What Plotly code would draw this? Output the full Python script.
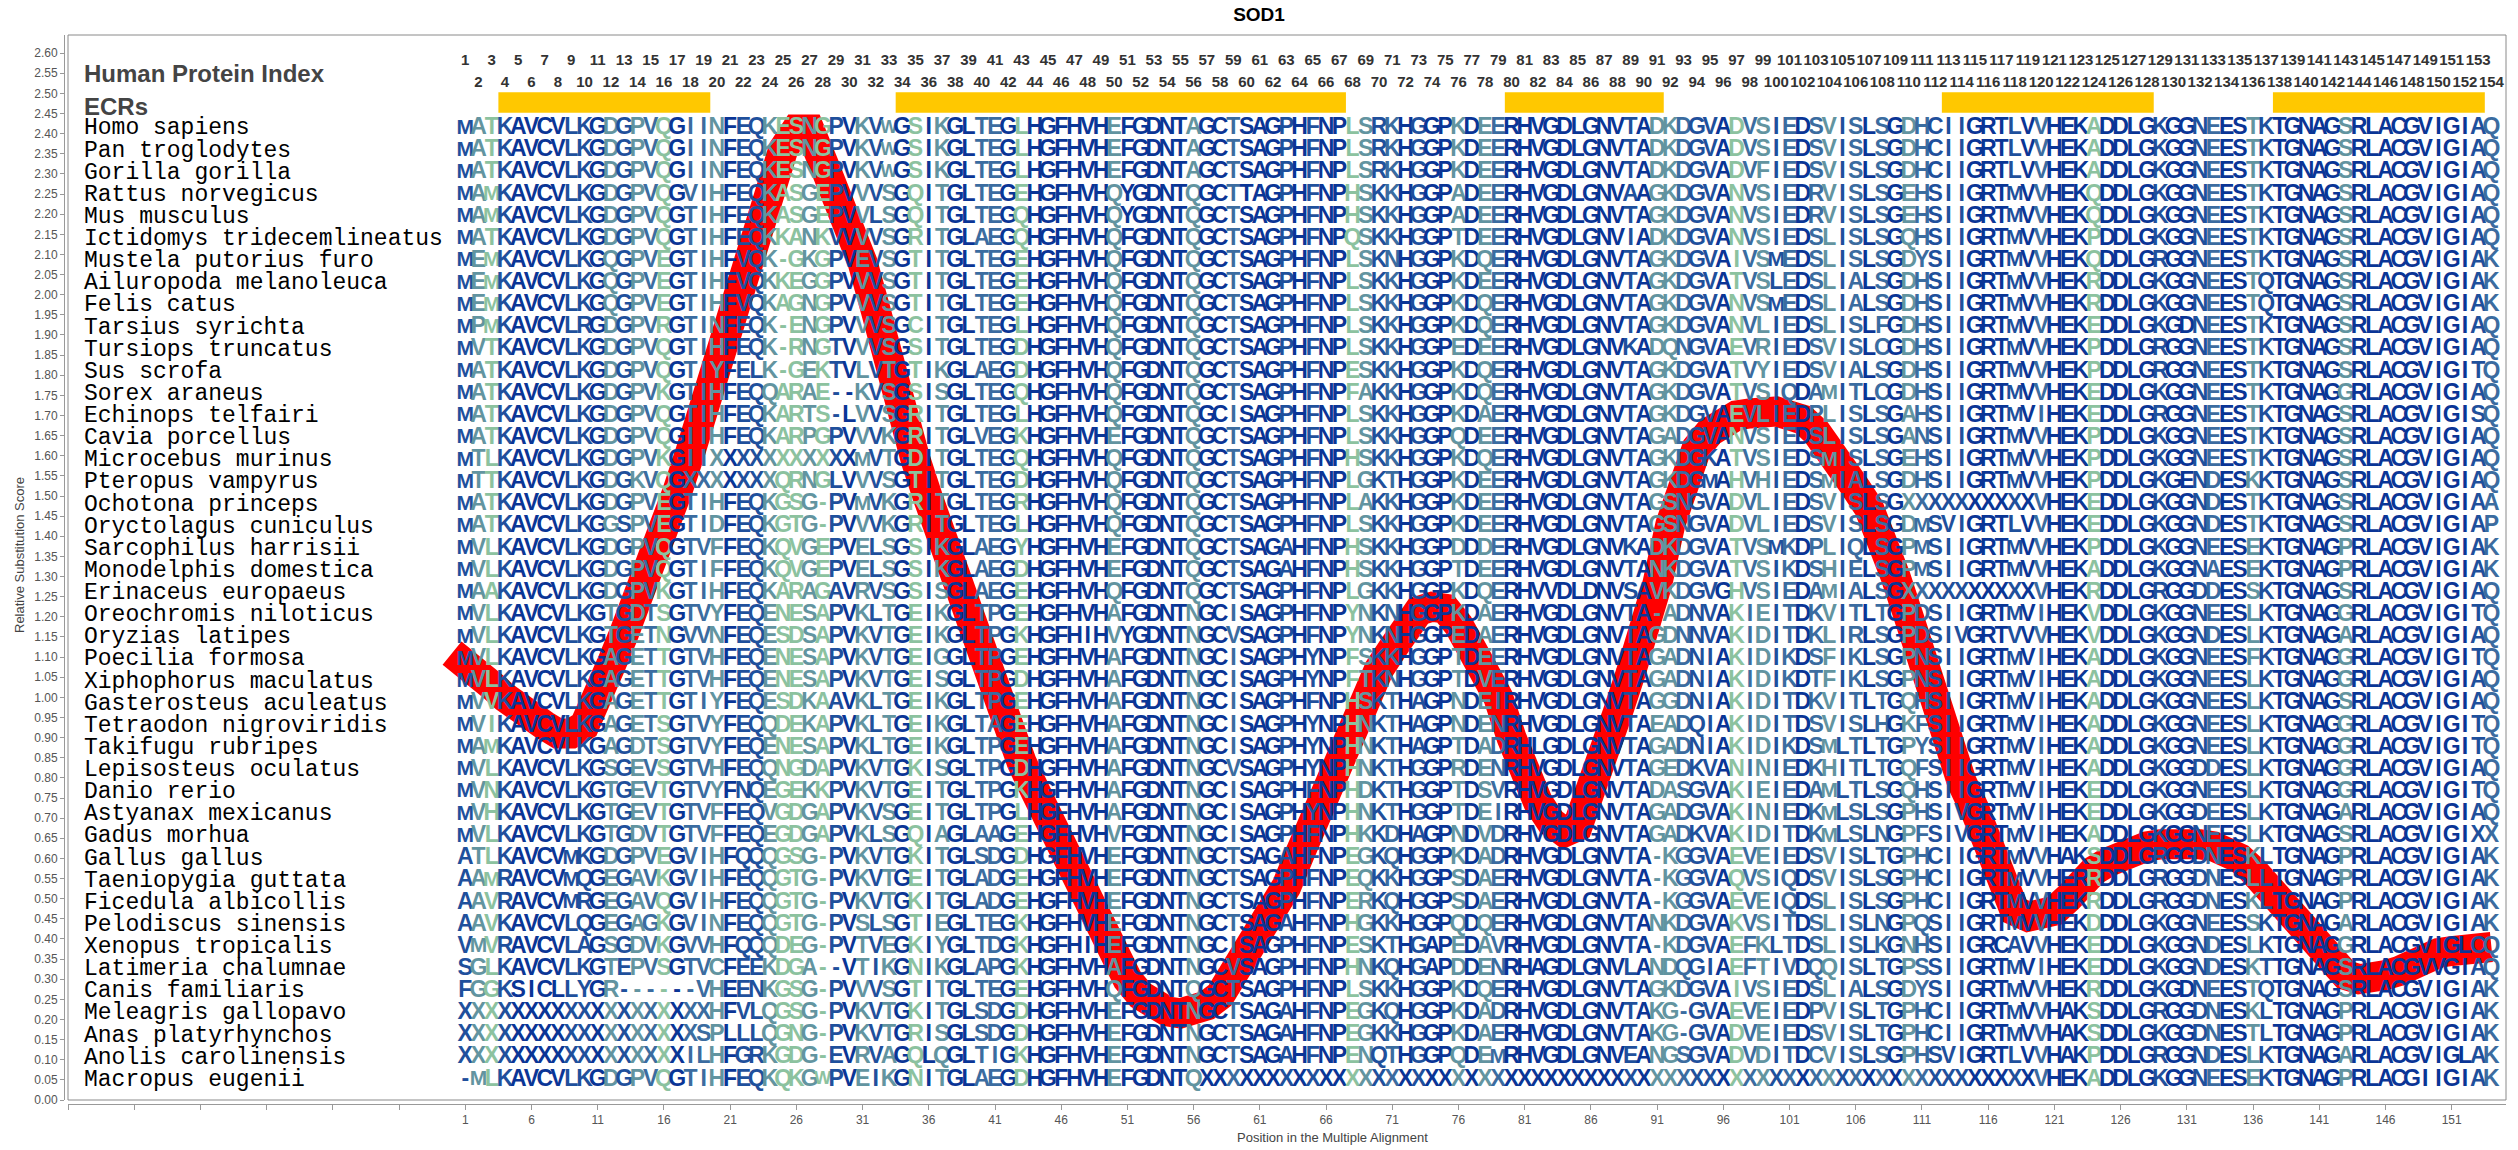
import plotly.graph_objects as go
from collections import Counter

# ---------------- data ----------------
SPECIES = [
    "Homo sapiens", "Pan troglodytes", "Gorilla gorilla", "Rattus norvegicus",
    "Mus musculus", "Ictidomys tridecemlineatus", "Mustela putorius furo",
    "Ailuropoda melanoleuca", "Felis catus", "Tarsius syrichta", "Tursiops truncatus",
    "Sus scrofa", "Sorex araneus", "Echinops telfairi", "Cavia porcellus",
    "Microcebus murinus", "Pteropus vampyrus", "Ochotona princeps",
    "Oryctolagus cuniculus", "Sarcophilus harrisii", "Monodelphis domestica",
    "Erinaceus europaeus", "Oreochromis niloticus", "Oryzias latipes",
    "Poecilia formosa", "Xiphophorus maculatus", "Gasterosteus aculeatus",
    "Tetraodon nigroviridis", "Takifugu rubripes", "Lepisosteus oculatus",
    "Danio rerio", "Astyanax mexicanus", "Gadus morhua", "Gallus gallus",
    "Taeniopygia guttata", "Ficedula albicollis", "Pelodiscus sinensis",
    "Xenopus tropicalis", "Latimeria chalumnae", "Canis familiaris",
    "Meleagris gallopavo", "Anas platyrhynchos", "Anolis carolinensis",
    "Macropus eugenii",
]

SEQUENCES = [
    "MATKAVCVLKGDGPVQGIINFEQKESNGPVKVWGSIKGL" "TEGLHGFHVHEFGDNTAGCTSAGPHFNPLSRKHGGPKDE" "ERHVGDLGNVTADKDGVADVSIEDSVISLSGDHCIIGRTL" "VVHEKADDLGKGGNEESTKTGNAGSRLACGVIGIAQ",
    "MATKAVCVLKGDGPVQGIINFEQKESNGPVKVWGSIKGL" "TEGLHGFHVHEFGDNTAGCTSAGPHFNPLSRKHGGPKDE" "ERHVGDLGNVTADKDGVADVSIEDSVISLSGDHCIIGRTL" "VVHEKADDLGKGGNEESTKTGNAGSRLACGVIGIAQ",
    "MATKAVCVLKGDGPVQGIINFEQKESNGPVKVWGSIKGL" "TEGLHGFHVHEFGDNTAGCTSAGPHFNPLSRKHGGPKDE" "ERHVGDLGNVTADKDGVADVFIEDSVISLSGDHCIIGRTL" "VVHEKADDLGKGGNEESTKTGNAGSRLACGVIGIAQ",
    "MAMKAVCVLKGDGPVQGVIHFEQKASGEPVVVSGQITGL" "TEGEHGFHVHQYGDNTQGCTTAGPHFNPHSKKHGGPADE" "ERHVGDLGNVAAGKDGVANVSIEDRVISLSGEHSIIGRTM" "VVHEKQDDLGKGGNEESTKTGNAGSRLACGVIGIAQ",
    "MAMKAVCVLKGDGPVQGTIHFEQKASGEPVVLSGQITGL" "TEGQHGFHVHQYGDNTQGCTSAGPHFNPHSKKHGGPADE" "ERHVGDLGNVTAGKDGVANVSIEDRVISLSGEHSIIGRTM" "VVHEKQDDLGKGGNEESTKTGNAGSRLACGVIGIAQ",
    "MATKAVCVLKGDGPVQGTIHFEQKKANKVVVVSGRITGL" "AEGQHGFHVHQFGDNTQGCTSAGPHFNPQSKKHGGPTDE" "ERHVGDLGNVIADKDGVANVSIEDSLISLSGQHSIIGRTM" "VVHEKPDDLGKGGNEESTKTGNAGSRLACGVIGIAQ",
    "MEMKAVCVLKGQGPVEGTIHFVQK-GKGPVEVSGTITGL" "TEGEHGFHVHQFGDNTQGCTSAGPHFNPLSKNHGGPKDQ" "ERHVGDLGNVTAGKDGVAIVSMEDSLISLSGDYSIIGRTM" "VVHEKQDDLGRGGNEESTKTGNAGSRLACGVIGIAK",
    "MEMKAVCVLKGQGPVEGTIHFVQKKEGGPVVVSGTITGL" "TEGEHGFHVHQFGDNTQGCTSAGPHFNPLSKKHGGPKDE" "ERHVGDLGNVTAGKDGVATVSLEDSLIALSGDHSIIGRTM" "VVHEKRDDLGKGGNEESTQTGNAGSRLACGVIGIAK",
    "MEMKAVCVLKGQGPVEGTIHFVQKAGNGPVVVSGTITGL" "TEGEHGFHVHQFGDNTQGCTSAGPHFNPLSKKHGGPKDQ" "ERHVGDLGNVTAGKDGVANVSMEDSLIALSGDHSIIGRTM" "VVHEKRDDLGKGGNEESTQTGNAGSRLACGVIGIAK",
    "MPMKAVCVLRGDGPVRGTINFEQK-ENGPVVVSGCITGL" "TEGLHGFHVHQFGDNTQGCTSAGPHFNPLSKKHGGPKDQ" "ERHVGDLGNVTAGKDGVANVLIEDSLISLFGDHSIIGRTM" "VVHEKEDDLGKGDNEESTKTGNAGSRLACGVIGIAQ",
    "MVTKAVCVLKGDGPVQGTIHFEQK-RNGTVVVSGSITGL" "TEGDHGFHVHQFGDNTQGCTSAGPHFNPLSKKHGGPEDE" "ERHVGDLGNVKADQNGVAEVRIEDSVISLCGDHSIIGRTM" "VVHEKPDDLGRGGNEESTKTGNAGSRLACGVIGIAQ",
    "MATKAVCVLKGDGPVQGTIYFELK-GEKTVLVTGTIKGL" "AEGDHGFHVHQFGDNTQGCTSAGPHFNPESKKHGGPKDQ" "ERHVGDLGNVTAGKDGVATVYIEDSVIALSGDHSIIGRTM" "VVHEKPDDLGRGGNEESTKTGNAGSRLACGVIGITQ",
    "MATKAVCVLKGDGPVKGTIHFEQQARAE--KVSGSISGL" "TEGQHGFHVHQFGDNTQGCTSAGPHFNPFAKKHGGPKDQ" "ERHVGDLGNVTAGKDGVATVSIQDAMITLCGDHSIIGRTM" "VVHEKEDDLGKGGNEESTKTGNAGGRLACGVIGIAQ",
    "MATKAVCVLKGDGPVQGTIHFEQKARTS-LVVSGRITGL" "TEGLHGFHVHQFGDNTQGCISAGPHFNPLSKKHGGPKDA" "ERHVGDLGNVTAGKDGVAEVLIEDPLISLSGAHSIIGRTM" "VIHEKEDDLGRGGNEESTKTGNAGSRLACGVIGISQ",
    "MATKAVCVLKGDGPVQGIIHFEQKARPGPVVVKGRITGL" "VEGKHGFHVHEFGDNTQGCTSAGPHFNPLSKKHGGPQDE" "ERHVGDLGNVTAGADGVANVSIEDSLISLSGANSIIGRTM" "VVHEKPDDLGKGGNEESTKTGNAGSRLACGVIGIAQ",
    "MTLKAVCVLKGDGPVKGIIXXXXXXXXXXXMVTGDITGL" "TEGQHGFHVHQFGDNTQGCTSAGPHFNPHSKKHGGPKDQ" "ERHVGDLGNVTAGKDGKATVSIEDSMISLSGEHSIIGRTM" "VVHEKPDDLGKGGNEESTKTGNAGSRLACGVIGIAQ",
    "MTTKAVCVLKGDGKVQGXXXXXXXQRNGLVVVSGTITGL" "TEGDHGFHVHQFGDNTQGCTSAGPHFNPLGKTHGGPKDE" "ERHVGDLGNVTAGKDGMAHVHIEDSMIALSGDHSIIGRTM" "VVHEKPDDLGKGENDESKKTGNAGSRLACGVIGIAQ",
    "MATKAVCVLKGDGPVEGTIHFEQKGSG-PVMVKGRITGL" "TEGRHGFHVHQFGDNTQGCTSAGPHFNPLAKKHGGPKDE" "ERHVGDLGNVTAGSNGVADVLIEDSVISLSGXXXXXXXXX" "XVHEKEDDLGKGGNDESTKTGNAGSRLACGVIGIAA",
    "MATKAVCVLKGGSPVEGTIDFEQKGTG-PVVVKGRITGL" "TEGLHGFHVHQFGDNTQGCTSAGPHFNPLSKKHGGPKDE" "ERHVGDLGNVTAGSNGVADVLIEDSVISLSGDMSVIGRTL" "VVHEKEDDLGKGGNDESTKTGNAGSRLACGVIGIAP",
    "MVLKAVCVLKGDGPVQGTVFFEQKQVGEPVELSGSIKGL" "AEGYHGFHVHEFGDNTQGCTSAGAHFNPHSKKHGGPDDD" "ERHVGDLGNVKADKDGVATVSMKDPLIQLSGPMSIIGRTM" "VVHEKPDDLGKGGNEESEKTGNAGPRLACGVIGIAK",
    "MVLKAVCVLKGDGPVQGTIFFEQKQVGEPVELSGSIKGL" "AEGDHGFHVHEFGDNTQGCTSAGAHFNPHSKKHGGPTDE" "ERHVGDLGNVTANKDGVATVSIKDSHIELSGPMSIIGRTM" "VVHEKADDLGKGGNAESEKTGNAGPRLACGVIGIAK",
    "MAAKAVCVLKGDGPVKGTIHFEQKARAGAVRVSGSISGL" "AEGEHGFHVHQFGDNTQGCTSAGPHFNPLGKKHGGPKDQ" "ERHVVDLDNVSAVKDGVGHVSIEDAMIALSGXXXXXXXXX" "XVHEKRDDLGRGGDDESSKTGNAGSRLACGVIGIAQ",
    "MVLKAVCVLKGTGDTSGTVYFEQENESAPVKLTGEIKGL" "TPGEHGFHVHAFGDNTNGCISAGPHFNPYNKNHGGPKDA" "ERHVGDLGNVTA-ADNVAKIEITDKVITLTGPDSIIGRTM" "VIHEKVDDLGKGGNEESLKTGNAGGRLACGVIGITQ",
    "MVLKAVCVLKGTGETNGVVNFEQESDSAPVKVTGEIKGL" "TPGKHGFHIHVYGDNTNGCVSAGPHFNPYNKNHGGPEDA" "ERHVGDLGNVTAGDNNVAKIDITDKLIRLSGPDSIVGRTV" "VVHEKVDDLGKGGNDESLKTGNAGARLACGVIGIAQ",
    "MVLKAVCVLKGAGETTGTVHFEQENESAPVKVTGEIGGL" "TPGEHGFHVHAFGDNTNGCISAGPHYNPFSKKHGGPTDE" "ERHVGDLGNVTAGADNIAKIDIKDSFIKLSGPNSIIGRTM" "VIHEKADDLGKGGNEESFKTGNAGGRLACGVIGITQ",
    "MVLKAVCVLKGAGETTGTVHFEQENESAPVKVTGEISGL" "TPGDHGFHVHAFGDNTNGCISAGPHYNPFTKNHGGPTDV" "ERHVGDLGNVTAGADNIAKIDIKDTFIKLSGPNSIIGRTM" "VIHEKADDLGKGGNEESLKTGNAGGRLACGVIGIAQ",
    "MVVKAVCVLKGAGETTGTIYFEQESDKAAVKLTGEIKGL" "TPGEHGFHVHAFGDNTNGCISAGPHFNPHSKTHAGPNDE" "IRHVGDLGNVTAGGDNIAKIDITDKVITLTGQHSIIGRTM" "VIHEKADDLGKGGNEESLKTGNAGSRLACGVIGIAQ",
    "MVIKAVCVLKGAGETSGTVYFEQQDEKAPVKLTGEIKGL" "TAGEHGFHVHAFGDNTNGCISAGPHYNPHNKTHAGPNDE" "NRHVGDLGNVTAEADQIAKIDITDSVISLHGKFSIIGRTM" "VIHEKADDLGKGGNEESLKTGNAGGRLACGVIGITQ",
    "MAMKAVCVLKGAGDTSGTVYFEQENESAPVKLTGEIKGL" "TPGEHGFHVHAFGDNTNGCISAGPHYNPHNKTHAGPTDA" "DRHLGDLGNVTAGADNIAKIDIKDSMLTLTGPYSIIGRTM" "VIHEKADDLGKGGNEESLKTGNAGGRLACGVIGITQ",
    "MVLKAVCVLKGSGEVSGTVHFEQQNGDAPVKVTGKISGL" "TPGDHGFHVHAFGDNTNGCVSAGPHYNPHNKTHGGPRDE" "NRHVGDLGNVTAGEDKVANINIEDKHITLTGQFSIIGRTM" "VIHEKADDLGKGGDDESLKTGNAGGRLACGVIGIAQ",
    "MVNKAVCVLKGTGEVTGTVYFNQEGEKKPVKVTGEITGL" "TPGKHGFHVHAFGDNTNGCISAGPHFNPHDKTHGGPTDS" "VRHVGDLGNVTADASGVAKIEIEDAMLTLSGQHSIIGRTM" "VIHEKEDDLGKGGNEESLKTGNAGGRLACGVIGITQ",
    "MVHKAVCVLKGTGEVTGTVFFEQVGDGAPVKVSGEITGL" "TPGLHGFHVHAFGDNTNGCISAGPHYNPHNKTHGGPTDE" "IRHVGDLGNVTAGADGVAKINIEDKMLSLSGPHSIVGRTM" "VIHEKEDDLGKGGDEESLKTGNAGARLACGVIGIAQ",
    "MVLKAVCVLKGTGDVTGTVFFEQEGDGAPVKLSGQIAGL" "AAGEHGFHVHVFGDNTNGCISAGPHFNPHKKDHAGPNDV" "DRHVGDLGNVTAGADKVAKIDITDKMLSLNGPFSIVGRTM" "VIHEKADDLGKGGNEESLKTGNAGSRLACGVIGIXX",
    "ATLKAVCVMKGDGPVEGVIHFQQQGSG-PVKVTGKITGL" "SDGDHGFHVHEFGDNTNGCTSAGAHFNPEGKQHGGPKDA" "DRHVGDLGNVTA-KGGVAEVEIEDSVISLTGPHCIIGRTM" "VVHAKSDDLGRGGDNESKLTGNAGPRLACGVIGIAK",
    "AAMRAVCVMQGEGAVKGVIHFEQQGTG-PVKVTGEITGL" "ADGEHGFHVHEFGDNTNGCTSAGPHFNPEQKKHGGPSDA" "ERHVGDLGNVTA-KGGVAQVSIQDSVISLSGPHCIIGRTM" "VVHERRDDLGRGGDNESLLTGNAGPRLACGVIGIAK",
    "AAVRAVCVMRGEGAVQGVIHFEQQGTG-PVKVTGKITGL" "ADGEHGFHVHEFGDNTNGCTSAGPHFNPERKQHGGPSDA" "ERHVGDLGNVTA-KGGVAEVEIQDSLISLSGPHCIIGRTM" "VVHEKRDDLGRGGDNESKLTGNAGPRLACGVIGIAK",
    "AAVKAVCVLQGEGAGKGVINFEQQGTG-PVSLSGTIEGL" "TEGKHGFHVHEFGDNTNGCTSAGAHFNPHGKKHGGPQDQ" "ERHVGDLGNVTANKDGVAKVSITDSLISLNGPQSIIGRTM" "VVHEKDDDLGKGGNEESSKTGNAGARLACGVIGIAK",
    "VMVRAVCVLAGSGDVKGVVHFQQQDEG-PVTVEGKIYGL" "TDGKHGFHIHEFGDNTNGCISAGPHFNPESKTHGAPEDA" "VRHVGDLGNVTA-KDGVAEFKLTDSLISLKGNHSIIGRCA" "VVHEKEDDLGKGGNDESLKTGNAGGRLACGVIGLCQ",
    "SGLKAVCVLKGTEPVSGTVCFEEKDGA--VTIKGNIKGL" "APGKHGFHVHAFGDNTNGCVSAGPHFNPHNKQHGAPDDE" "NRHAGDLGNVLANDQGIAEFTIVDQQISLTGPSSIIGRTM" "VIHEKEDDLGKGGNDESKTTGNAGSRLACGVVGIAQ",
    "FGGKSICLLYGR------VHEENKGSG-PVVVSGTITGL" "TEGEHGFHVHQFGDNTQGCTSAGPHFNPLSKKHGGPKDQ" "ERHVGDLGNVTAGKDGVAIVSIEDSLIALSGDYSIIGRTM" "VVHEKRDDLGKGDNEESTQTGNAGSRLACGVIGIAK",
    "XXXXXXXXXXXXXXXXXXXHFVLQGSG-PVKVTGKITGL" "SDGDHGFHVHEFGDNTNGCTSAGAHFNPEGKQHGGPKDA" "DRHVGDLGNVTAKG-GVAEVEIEDPVISLTGPHCIIGRTM" "VVHAKSDDLGRGGDNESKLTGNAGPRLACGVIGIAK",
    "XXXXXXXXXXXXXXXXXXSPLLLQGNG-PVKVTGRISGL" "SDGDHGFHVHEFGDNTNGCTSAGAHFNPEGKKHGGPKDA" "ERHVGDLGNVTAKG-GVADVEIEDSVISLTGPHCIIGRTM" "VVHAKSDDLGKGGDNESTLTGNAGPRLACGVIGIAK",
    "XXXXXXXXXXXXXXXXXILHFGRKGDG-EVRVAGQLQGL" "TIGKHGFHVHEFGDNTNGCTSAGAHFNPENQTHGGPQDE" "MRHVGDLGNVEANGSGVADVDITDCVISLSGPHSVIGRTL" "VVHAKPDDLGRGGNDESLKTGNAGARLACGVIGLAK",
    "-MLKAVCVLKGDGPVQGTIHFEQKQKGWPVEIKGNITGL" "AEGDHGFHVHEFGDNTQXXXXXXXXXXXXXXXXXXXXXX" "XXXXXXXXXXXXXXXXXXXXXXXXXXXXXXXXXXXXXXXX" "XVHEKADDLGKGGNEESEKTGNAGPRLACGIIGIAK",
]

ECR_START = [4, 34, 80, 113, 138]
ECR_END = [19, 67, 91, 128, 153]

LINE_POS = list(range(0, 155))
LINE_VAL = [
    1.11, 1.09, 1.06, 1.03, 1.00, 0.97, 0.95, 0.93, 0.91, 0.91,   # 0-9
    0.93, 0.99, 1.08, 1.16, 1.24, 1.32, 1.41, 1.51, 1.61, 1.72,   # 10-19
    1.84, 1.96, 2.07, 2.19, 2.30, 2.36, 2.41, 2.41, 2.33, 2.25,   # 20-29
    2.18, 2.08, 1.96, 1.82, 1.69, 1.59, 1.49, 1.39, 1.29, 1.19,   # 30-39
    1.10, 0.99, 0.91, 0.84, 0.77, 0.70, 0.63, 0.55, 0.48, 0.41,   # 40-49
    0.35, 0.30, 0.26, 0.235, 0.22, 0.215, 0.22, 0.235, 0.26, 0.31,  # 50-59
    0.36, 0.41, 0.47, 0.53, 0.61, 0.69, 0.79, 0.87, 0.95, 1.01,   # 60-69
    1.07, 1.12, 1.18, 1.215, 1.225, 1.22, 1.18, 1.12, 1.06, 1.00,  # 70-79
    0.90, 0.81, 0.74, 0.69, 0.665, 0.68, 0.76, 0.87, 0.96, 1.06,  # 80-89
    1.16, 1.28, 1.43, 1.55, 1.62, 1.66, 1.69, 1.70, 1.705, 1.71,  # 90-99
    1.71, 1.70, 1.69, 1.66, 1.62, 1.58, 1.52, 1.47, 1.40, 1.30,   # 100-109
    1.20, 1.09, 0.98, 0.88, 0.79, 0.72, 0.63, 0.54, 0.47, 0.455,  # 110-119
    0.46, 0.47, 0.50, 0.54, 0.57, 0.59, 0.61, 0.62, 0.63, 0.635,  # 120-129
    0.64, 0.64, 0.635, 0.63, 0.62, 0.60, 0.57, 0.53, 0.50, 0.46,  # 130-139
    0.42, 0.38, 0.34, 0.31, 0.30, 0.30, 0.31, 0.32, 0.34, 0.355,  # 140-149
    0.365, 0.37, 0.375, 0.38, 0.38,                               # 150-154
]

Y_TICKS = [round(0.05 * i, 2) for i in range(0, 53)]
X_TICKS = list(range(-29, 155, 5))

TITLE = "SOD1"
X_TITLE = "Position in the Multiple Alignment"
Y_TITLE = "Relative Substitution Score"

# ---------------- geometry ----------------
# the page body adds an 8px margin, so the figure is drawn 8px smaller / shifted
OFF = 8
W, H = 2518 - OFF, 1150 - OFF
ML, MT = 64 - OFF, 35 - OFF
MR = 12
MB = H - (1104 - OFF)
PW, PH = W - ML - MR, H - MT - MB
XR = [-29.0, 155.1]
YR = [0.0, 2.645]
ROW0_Y = 2.413
ROW_STEP = 0.05495
NAME_X = -27.96

SEQ_FONT = "Liberation Sans Narrow, Arial Narrow, Liberation Sans, Arial, sans-serif"
WIDE_SIZE = {"W": 18, "M": 21}

fig = go.Figure()

# red substitution score line
fig.add_trace(go.Scatter(
    x=LINE_POS, y=LINE_VAL, mode="lines",
    line=dict(color="#FF0000", width=30),
    hoverinfo="skip", showlegend=False,
))

# column colours from conservation
n_rows = len(SEQUENCES)
col_colors = []
for j in range(154):
    col = [s[j] if j < len(s) else " " for s in SEQUENCES]
    frac = Counter(col).most_common(1)[0][1] / n_rows
    if frac >= 0.9:
        c = "#0a3596"
    elif frac >= 0.75:
        c = "#1f509c"
    elif frac >= 0.55:
        c = "#3b6ca0"
    elif frac >= 0.38:
        c = "#6294a0"
    else:
        c = "#8cc29f"
    col_colors.append(c)

xs, ys, chars, colors, sizes = [], [], [], [], []
for i, s in enumerate(SEQUENCES):
    y = ROW0_Y - i * ROW_STEP
    for j, ch in enumerate(s[:154]):
        xs.append(j + 1)
        ys.append(y)
        chars.append(ch)
        colors.append(col_colors[j])
        sizes.append(WIDE_SIZE.get(ch, 23))

fig.add_trace(go.Scatter(
    x=xs, y=ys, mode="text", text=chars, textposition="middle center",
    textfont=dict(family=SEQ_FONT, size=sizes, color=colors, weight="bold"),
    hoverinfo="skip", showlegend=False,
))

# human protein index numbers
idx = list(range(1, 155))
fig.add_trace(go.Scatter(
    x=[i for i in idx if i % 2 == 1], y=[2.58] * 77, mode="text",
    text=[str(i) for i in idx if i % 2 == 1], textposition="middle center",
    textfont=dict(family=SEQ_FONT, size=15, color="#333333", weight="bold"),
    hoverinfo="skip", showlegend=False,
))
fig.add_trace(go.Scatter(
    x=[i for i in idx if i % 2 == 0], y=[2.525] * 77, mode="text",
    text=[str(i) for i in idx if i % 2 == 0], textposition="middle center",
    textfont=dict(family=SEQ_FONT, size=15, color="#333333", weight="bold"),
    hoverinfo="skip", showlegend=False,
))

shapes = []
for s0, s1 in zip(ECR_START, ECR_END):
    shapes.append(dict(type="rect", xref="x", yref="y", x0=s0 - 0.5, x1=s1 + 0.5,
                       y0=2.452, y1=2.503, fillcolor="#FFC800", line=dict(width=0),
                       layer="below"))
shapes.append(dict(type="rect", xref="x domain", yref="y domain", x0=0, x1=1, y0=0, y1=1,
                   line=dict(color="#8a8a8a", width=1), fillcolor="rgba(0,0,0,0)",
                   layer="above"))

annotations = []
for i, name in enumerate(SPECIES):
    annotations.append(dict(
        x=NAME_X, y=ROW0_Y - i * ROW_STEP, xref="x", yref="y", text=name,
        showarrow=False, xanchor="left", yanchor="middle",
        font=dict(family="Liberation Mono, DejaVu Sans Mono, monospace", size=23, color="#000000"),
    ))
annotations.append(dict(x=NAME_X, y=2.55, xref="x", yref="y", text="<b>Human Protein Index</b>",
                        showarrow=False, xanchor="left", yanchor="middle",
                        font=dict(family="Liberation Sans, Arial", size=24, color="#444444")))
annotations.append(dict(x=NAME_X, y=2.468, xref="x", yref="y", text="<b>ECRs</b>",
                        showarrow=False, xanchor="left", yanchor="middle",
                        font=dict(family="Liberation Sans, Arial", size=24, color="#444444")))
# axis titles (pixel positions converted to paper coordinates)
annotations.append(dict(x=(1332 - OFF - ML) / PW, y=(H - (1137 - OFF) - MB) / PH,
                        xref="paper", yref="paper",
                        text=X_TITLE, showarrow=False, xanchor="center", yanchor="middle",
                        font=dict(family="Liberation Sans, Arial", size=13, color="#444444")))
annotations.append(dict(x=(19 - OFF - ML) / PW, y=(H - (555 - OFF) - MB) / PH,
                        xref="paper", yref="paper",
                        text=Y_TITLE, showarrow=False, xanchor="center", yanchor="middle",
                        textangle=-90,
                        font=dict(family="Liberation Sans, Arial", size=13, color="#444444")))

fig.update_layout(
    width=W, height=H,
    margin=dict(l=ML, r=MR, t=MT, b=MB, pad=0),
    paper_bgcolor="white", plot_bgcolor="white",
    title=dict(text="<b>" + TITLE + "</b>", x=(1259 - OFF) / W, xref="container", xanchor="center",
               y=1 - (14 - OFF) / H, yref="container", yanchor="middle",
               font=dict(family="Liberation Sans, Arial", size=19, color="#000000")),
    xaxis=dict(range=XR, domain=[4 / PW, 1], anchor="free", position=0,
               tickvals=X_TICKS, ticktext=[str(v) if v > 0 else "" for v in X_TICKS],
               ticks="outside", ticklen=5, tickcolor="#999999", tickwidth=1,
               showline=True, linecolor="#999999", linewidth=1,
               showgrid=False, zeroline=False,
               tickfont=dict(family="Liberation Sans, Arial", size=12, color="#555555")),
    yaxis=dict(range=YR, domain=[4 / PH, 1], anchor="free", position=0,
               tickvals=Y_TICKS, ticktext=["%.2f" % v for v in Y_TICKS],
               ticks="outside", ticklen=4, tickcolor="#999999", tickwidth=1,
               showline=True, linecolor="#999999", linewidth=1,
               showgrid=False, zeroline=False,
               tickfont=dict(family="Liberation Sans, Arial", size=12, color="#555555")),
    shapes=shapes, annotations=annotations,
    showlegend=False,
)

fig.write_html("out.html")
